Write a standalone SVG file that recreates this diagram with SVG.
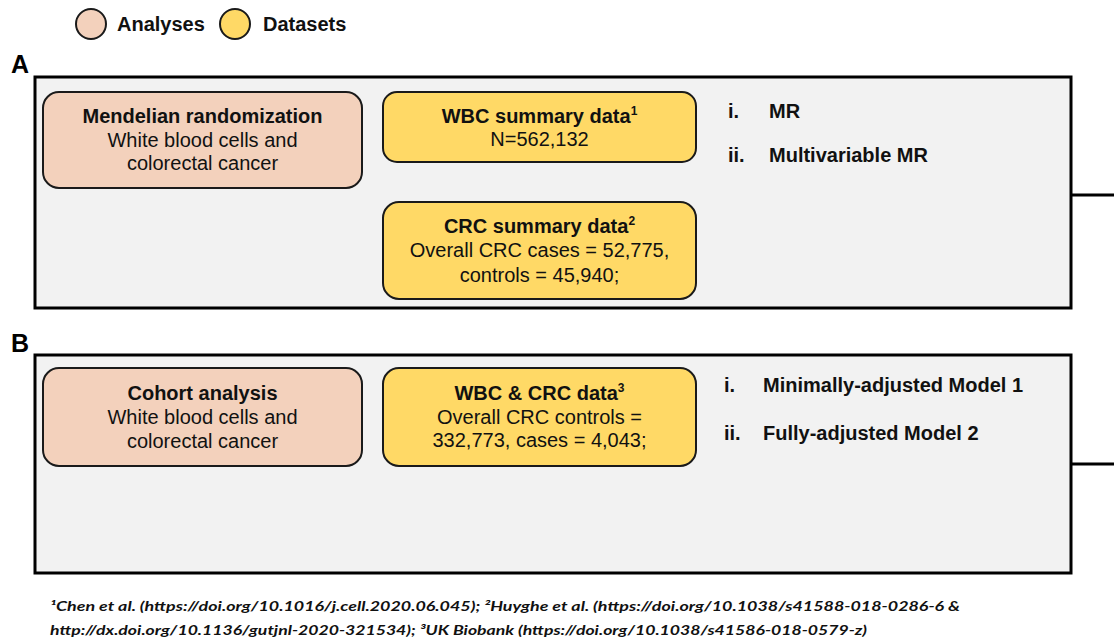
<svg xmlns="http://www.w3.org/2000/svg" width="1114" height="640" viewBox="0 0 1114 640">
<style>
.t{font-family:"Liberation Sans",Arial,sans-serif;font-size:20px;fill:#111;}
.b{font-weight:bold;}
.c{text-anchor:middle;}
.sup{font-size:12px;font-weight:bold;}
.panel{fill:#F2F2F2;stroke:#000;stroke-width:3;}
.ana{fill:#F3D1BC;stroke:#1a1a1a;stroke-width:2;}
.dat{fill:#FFD966;stroke:#1a1a1a;stroke-width:2;}
.lbl{font-family:"Liberation Sans",Arial,sans-serif;font-size:25px;font-weight:bold;fill:#000;}
.fn{font-family:"Lato","Liberation Sans",sans-serif;font-size:14px;font-style:italic;font-weight:bold;fill:#111;}
.conn{stroke:#000;stroke-width:3;fill:none;}
</style>
<rect width="1114" height="640" fill="#fff"/>
<g id="legend">
<circle class="ana" cx="91" cy="24" r="15"/>
<text class="t b" x="117" y="31">Analyses</text>
<circle class="dat" cx="235" cy="24" r="15"/>
<text class="t b" x="263" y="31">Datasets</text>
</g>
<g id="panelA">
<text class="lbl" x="11" y="73">A</text>
<rect class="panel" x="35" y="77" width="1036" height="231"/>
</g>
<g id="panelB">
<text class="lbl" x="11" y="352">B</text>
<rect class="panel" x="35" y="355" width="1036" height="218"/>
</g>
<g id="connectors">
<line class="conn" x1="1071" y1="195" x2="1114" y2="195"/>
<line class="conn" x1="1071" y1="464" x2="1114" y2="464"/>
</g>
<g id="mr">
<rect class="ana" x="43" y="92" width="319" height="96" rx="16"/>
<text class="t b c" x="202.5" y="123">Mendelian randomization</text>
<text class="t c" x="202.5" y="147">White blood cells and</text>
<text class="t c" x="202.5" y="170">colorectal cancer</text>
</g>
<g id="wbcSummary">
<rect class="dat" x="383" y="92" width="313" height="70" rx="14"/>
<text class="t b c" x="539.5" y="123">WBC summary data<tspan class="sup" dy="-8">1</tspan></text>
<text class="t c" x="539.5" y="146">N=562,132</text>
</g>
<g id="crcSummary">
<rect class="dat" x="383" y="202" width="313" height="97" rx="16"/>
<text class="t b c" x="539.5" y="233">CRC summary data<tspan class="sup" dy="-8">2</tspan></text>
<text class="t c" x="539.5" y="257">Overall CRC cases = 52,775,</text>
<text class="t c" x="539.5" y="282">controls = 45,940;</text>
</g>
<g id="listA">
<text class="t b" x="728" y="118">i.</text>
<text class="t b" x="769" y="118">MR</text>
<text class="t b" x="728" y="162">ii.</text>
<text class="t b" x="769" y="162">Multivariable MR</text>
</g>
<g id="cohort">
<rect class="ana" x="43" y="368" width="319" height="98" rx="16"/>
<text class="t b c" x="202.5" y="400">Cohort analysis</text>
<text class="t c" x="202.5" y="424">White blood cells and</text>
<text class="t c" x="202.5" y="448">colorectal cancer</text>
</g>
<g id="wbcCrc">
<rect class="dat" x="383" y="368" width="313" height="98" rx="16"/>
<text class="t b c" x="539.5" y="400">WBC &amp; CRC data<tspan class="sup" dy="-8">3</tspan></text>
<text class="t c" x="539.5" y="424">Overall CRC controls =</text>
<text class="t c" x="539.5" y="447">332,773, cases = 4,043;</text>
</g>
<g id="listB">
<text class="t b" x="724" y="392">i.</text>
<text class="t b" x="763" y="392">Minimally-adjusted Model 1</text>
<text class="t b" x="724" y="440">ii.</text>
<text class="t b" x="763" y="440">Fully-adjusted Model 2</text>
</g>
<g id="footnotes">
<text class="fn" x="50" y="611" textLength="910" lengthAdjust="spacingAndGlyphs">¹Chen et al. (https://doi.org/10.1016/j.cell.2020.06.045); ²Huyghe et al. (https://doi.org/10.1038/s41588-018-0286-6 &amp;</text>
<text class="fn" x="50" y="635" textLength="817" lengthAdjust="spacingAndGlyphs">http://dx.doi.org/10.1136/gutjnl-2020-321534); ³UK Biobank (https://doi.org/10.1038/s41586-018-0579-z)</text>
</g>
</svg>
